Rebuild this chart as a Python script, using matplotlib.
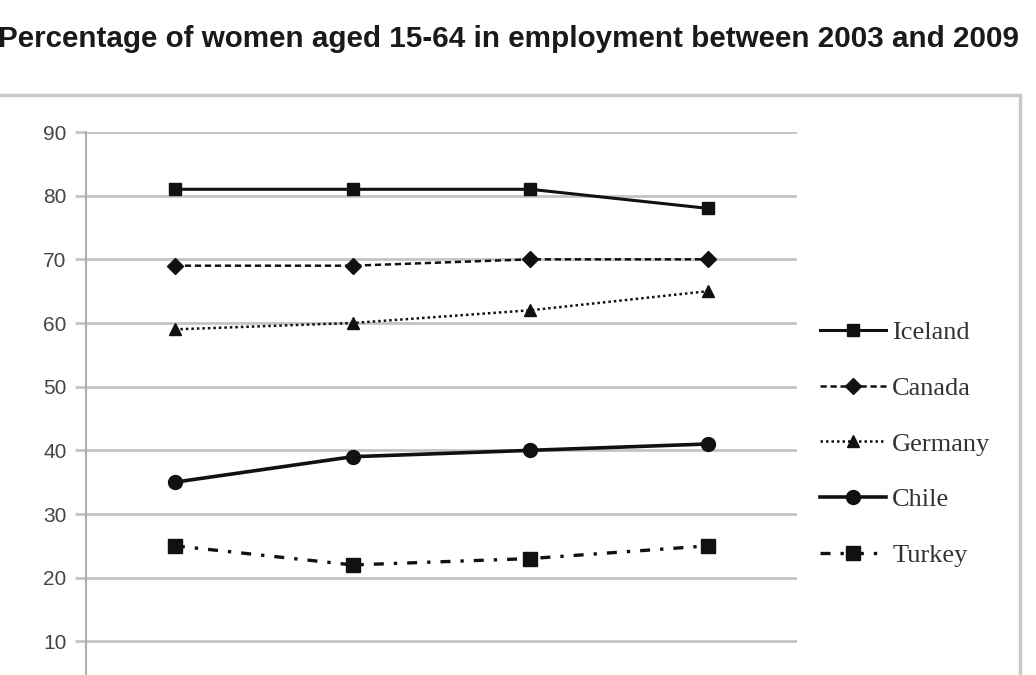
import matplotlib
matplotlib.use("Agg")
import matplotlib.pyplot as plt
from matplotlib.patches import Rectangle

years = ["2003", "2005", "2007", "2009"]
iceland = [81, 81, 81, 78]
canada = [69, 69, 70, 70]
germany = [59, 60, 62, 65]
chile = [35, 39, 40, 41]
turkey = [25, 22, 23, 25]
yticks = [10, 20, 30, 40, 50, 60, 70, 80, 90]

W, H = 1036, 675
fig = plt.figure(figsize=(W / 100, H / 100), dpi=100)
fig.patch.set_facecolor("white")

# outer chart frame
fig.add_artist(Rectangle((-5 / W, -0.1), 1025 / W, 1 - 95 / H + 0.1,
                         transform=fig.transFigure, fill=False,
                         edgecolor="#c8c8c8", linewidth=2.5))

fig.text(509 / W, 1 - 39 / H, "Percentage of women aged 15-64 in employment between 2003 and 2009",
         ha="center", va="center", fontsize=21.3, fontweight="bold",
         family=["Liberation Sans", "DejaVu Sans"], color="#1a1a1a")

left, right = 86 / W, 797 / W
y90 = 1 - 132 / H
y0 = 1 - 705 / H
ax = fig.add_axes([left, y0, right - left, y90 - y0])
ax.set_xlim(-0.5, 3.5)
ax.set_ylim(0, 90)
x = list(range(len(years)))

ax.set_yticks(yticks)
ax.yaxis.grid(True, color="#c4c4c4", linewidth=2)
ax.set_axisbelow(True)
for s in ["top", "right", "bottom"]:
    ax.spines[s].set_visible(False)
ax.spines["left"].set_color("#b0b0b0")
ax.spines["left"].set_linewidth(1.5)
ax.tick_params(axis="y", length=8, color="#c4c4c4", width=2, labelsize=15,
               labelcolor="#444444", pad=6)
for lab in ax.get_yticklabels():
    lab.set_family(["Liberation Sans", "DejaVu Sans"])
# x labels (years) lie below the visible crop of the chart
ax.set_xticks(x)
ax.set_xticklabels([])
ax.tick_params(axis="x", length=0)

k = "#111111"
ax.plot(x, iceland, color=k, lw=2.2, marker="s", ms=9, label="Iceland")
ax.plot(x, canada, color=k, lw=1.8, ls=(0, (2.5, 1.5)), marker="D", ms=8, label="Canada")
ax.plot(x, germany, color=k, lw=1.8, ls=(0, (1, 1.2)), marker="^", ms=9, label="Germany")
ax.plot(x, chile, color=k, lw=2.6, marker="o", ms=10, label="Chile")
ax.plot(x, turkey, color=k, lw=2.4, ls=(0, (3, 3, 1, 3)), marker="s", ms=10, label="Turkey")

handles, labels = ax.get_legend_handles_labels()
leg = fig.legend(handles, labels, loc="upper left",
                 bbox_to_anchor=(796 / W, 1 - 297 / H), frameon=False,
                 prop={"family": ["Liberation Serif", "DejaVu Serif"], "size": 19},
                 labelspacing=1.22, handlelength=2.5, handletextpad=0.25,
                 labelcolor="#333333")

fig.savefig("out.png", dpi=100, facecolor="white")
